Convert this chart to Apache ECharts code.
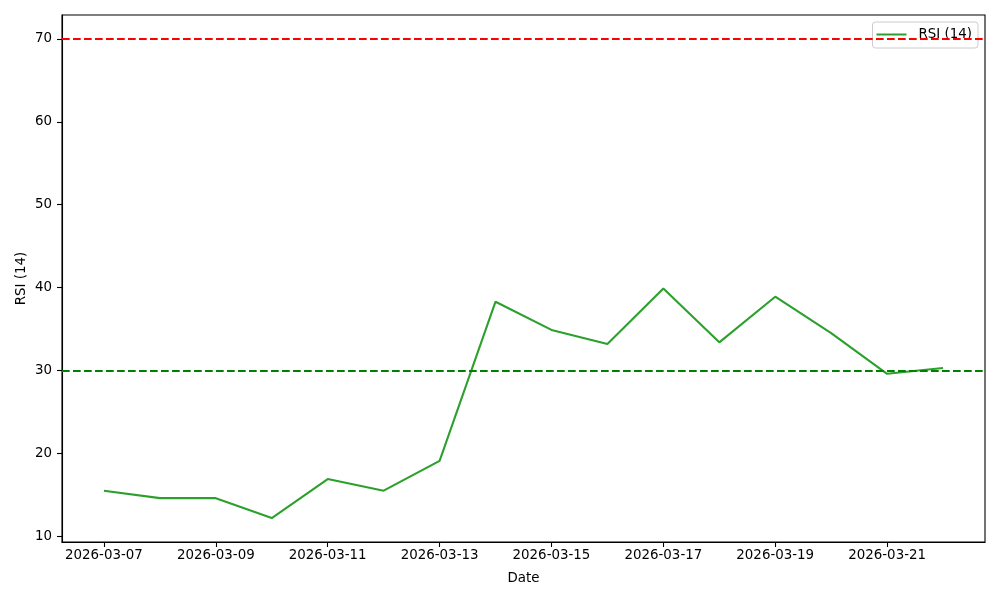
<!DOCTYPE html>
<html>
<head>
<meta charset="utf-8">
<script src="https://cdn.jsdelivr.net/npm/echarts@6/dist/echarts.min.js"></script>
<style>html,body{margin:0;padding:0;background:#fff}#c{width:1000px;height:600px}</style>
</head>
<body>
<div id="c"></div>
<script>
const dates = ["2026-03-07","2026-03-08","2026-03-09","2026-03-10","2026-03-11","2026-03-12","2026-03-13","2026-03-14","2026-03-15","2026-03-16","2026-03-17","2026-03-18","2026-03-19","2026-03-20","2026-03-21","2026-03-22"];
const rsi = [15.5, 14.6, 14.6, 12.2, 16.9, 15.5, 19.1, 38.3, 34.9, 33.2, 39.9, 33.4, 38.9, 34.5, 29.6, 30.3];
const yTicks = [10, 20, 30, 40, 50, 60, 70];
const xTickDates = ["2026-03-07","2026-03-09","2026-03-11","2026-03-13","2026-03-15","2026-03-17","2026-03-19","2026-03-21"];
const overbought = 70;
const oversold = 30;
const seriesName = "RSI (14)";

const DAY = 86400000;
const t0 = Date.parse(dates[0]);
const toX = d => (Date.parse(d) - t0) / DAY;
const xs = dates.map(toX);
const xSpan = xs[xs.length - 1] - xs[0];
const xMin = xs[0] - 0.05 * xSpan, xMax = xs[xs.length - 1] + 0.05 * xSpan;
const yLo = Math.min(...rsi, oversold), yHi = Math.max(...rsi, overbought);
const ySpan = yHi - yLo;
const yMin = yLo - 0.05 * ySpan, yMax = yHi + 0.05 * ySpan;
const xTickVals = xTickDates.map(toX);
const labelOf = v => {
  const d = new Date(t0 + Math.round(v) * DAY);
  return d.toISOString().slice(0, 10);
};

const font = "DejaVu Sans";
const fs = 13.4;
const dash = [7.7, 3.3];
const chart = echarts.init(document.getElementById('c'), null, {renderer: 'canvas'});
chart.setOption({
  animation: false,
  backgroundColor: '#fff',
  textStyle: {fontFamily: font},
  grid: {left: 62, right: 15, top: 15, bottom: 58, show: true, borderColor: '#000', borderWidth: 1.1, containLabel: false},
  legend: {
    data: [{name: seriesName, icon: 'rect'}],
    right: 22, top: 22,
    orient: 'vertical',
    backgroundColor: 'rgba(255,255,255,0.8)',
    borderColor: '#cccccc', borderWidth: 1, borderRadius: 3,
    padding: [6, 6, 7, 4],
    itemWidth: 30, itemHeight: 2, itemGap: 4,
    textStyle: {fontFamily: font, fontSize: fs, color: '#000', padding: [0, 0, 0, 7]}
  },
  xAxis: {
    type: 'value', min: xMin, max: xMax,
    name: 'Date', nameLocation: 'middle', nameGap: 30,
    nameTextStyle: {fontFamily: font, fontSize: fs, color: '#000'},
    axisLine: {show: true, onZero: false, lineStyle: {color: '#000', width: 1.1}},
    axisTick: {show: true, length: 5, customValues: xTickVals, lineStyle: {color: '#000', width: 1.1}},
    axisLabel: {customValues: xTickVals, formatter: v => labelOf(v), fontFamily: font, fontSize: fs, color: '#000', margin: 7},
    splitLine: {show: false}
  },
  yAxis: {
    type: 'value', min: yMin, max: yMax,
    name: 'RSI (14)', nameLocation: 'middle', nameGap: 34, nameRotate: 90,
    nameMoveOverlap: false,
    nameTextStyle: {fontFamily: font, fontSize: fs, color: '#000'},
    axisLine: {show: true, onZero: false, lineStyle: {color: '#000', width: 1.1}},
    axisTick: {show: true, length: 5, customValues: yTicks, lineStyle: {color: '#000', width: 1.1}},
    axisLabel: {customValues: yTicks, fontFamily: font, fontSize: fs, color: '#000', margin: 10},
    splitLine: {show: false}
  },
  series: [{
    name: seriesName,
    type: 'line',
    data: xs.map((x, i) => [x, rsi[i]]),
    showSymbol: false, symbol: 'none',
    itemStyle: {color: '#2ca02c'},
    lineStyle: {color: '#2ca02c', width: 2.08},
    markLine: {
      silent: true, symbol: ['none', 'none'],
      label: {show: false},
      data: [
        {yAxis: overbought, lineStyle: {color: '#ff0000', type: dash, width: 2.08}},
        {yAxis: oversold, lineStyle: {color: '#008000', type: dash, width: 2.08}}
      ]
    },
    z: 3
  }]
});
</script>
</body>
</html>
